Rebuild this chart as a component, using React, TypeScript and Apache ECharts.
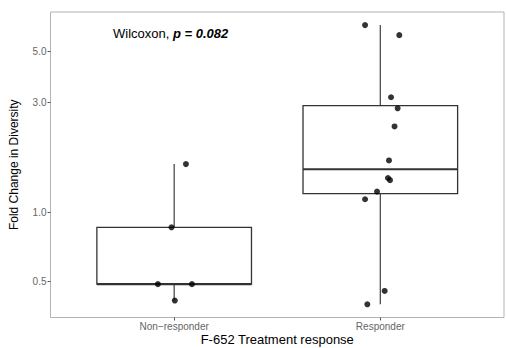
import React, { useEffect, useRef } from "react";
import * as echarts from "echarts";

const categories = ["Non−responder", "Responder"];
// values (fold change), with horizontal jitter (in category units)
const nonResponderValues = [1.62, 0.861, 0.488, 0.488, 0.414];
const nonResponderJitter = [0.057, -0.013, -0.079, 0.086, 0.003];
const responderValues = [6.5, 5.88, 3.16, 2.83, 2.36, 1.68, 1.41, 1.38, 1.23, 1.14, 0.456, 0.399];
const responderJitter = [-0.074, 0.092, 0.052, 0.084, 0.069, 0.042, 0.037, 0.047, -0.016, -0.074, 0.021, -0.063];
const yTicks = [0.5, 1.0, 3.0, 5.0];
const annotationLabel = "Wilcoxon, ";
const annotationP = "p = 0.082";
const xTitle = "F-652 Treatment response";
const yTitle = "Fold Change in Diversity";

const FONT = "'Liberation Sans', Arial, Helvetica, sans-serif";

function quantile7(sorted: number[], p: number) {
  const h = (sorted.length - 1) * p;
  const lo = Math.floor(h);
  const hi = Math.ceil(h);
  return sorted[lo] + (h - lo) * (sorted[hi] - sorted[lo]);
}

// boxplot stats computed in log10 space (as ggplot does with a log scale)
function boxStats(values: number[]) {
  const logs = values.map((v) => Math.log10(v)).sort((a, b) => a - b);
  const q1 = quantile7(logs, 0.25);
  const med = quantile7(logs, 0.5);
  const q3 = quantile7(logs, 0.75);
  const iqr = q3 - q1;
  const inside = logs.filter((v) => v >= q1 - 1.5 * iqr && v <= q3 + 1.5 * iqr);
  const wMin = Math.min(...inside);
  const wMax = Math.max(...inside);
  return [wMin, q1, med, q3, wMax].map((v) => Math.pow(10, v));
}

export default function App() {
  const ref = useRef<HTMLDivElement>(null);
  useEffect(() => {
    if (!ref.current) return;
    const chart = echarts.init(ref.current, undefined, { renderer: "svg" });
    const groups = [nonResponderValues, responderValues];
    const jitters = [nonResponderJitter, responderJitter];
    const boxData = groups.map((g, i) => [i + 1, ...boxStats(g)]);
    const pointData: number[][] = [];
    groups.forEach((g, i) => {
      g.forEach((v, j) => pointData.push([i + 1 + jitters[i][j], v]));
    });
    const boxHalf = 0.375;
    const stroke = "#333333";

    chart.setOption({
      animation: false,
      backgroundColor: "#ffffff",
      grid: {
        left: 50.5,
        right: 2,
        top: 12,
        bottom: 30.5,
        show: true,
        borderColor: "#b3b3b3",
        borderWidth: 1,
        backgroundColor: "transparent",
        containLabel: false,
        outerBoundsMode: "none",
      },
      xAxis: {
        type: "value",
        min: 0.4,
        max: 2.6,
        name: xTitle,
        nameLocation: "middle",
        nameGap: 15,
        nameMoveOverlap: false,
        nameTextStyle: { fontFamily: FONT, fontSize: 13, lineHeight: 14, color: "#000" },
        axisLine: { show: false },
        splitLine: { show: false },
        axisTick: { show: true, length: 3, customValues: [1, 2], lineStyle: { color: "#555", width: 1 } },
        axisLabel: {
          customValues: [1, 2],
          formatter: (v: number) => categories[Math.round(v) - 1] ?? "",
          fontFamily: FONT,
          fontSize: 10,
          color: "#666",
          margin: 4,
        },
      },
      yAxis: {
        type: "log",
        logBase: 10,
        min: 0.3496,
        max: 7.41,
        name: yTitle,
        nameLocation: "middle",
        nameRotate: 90,
        nameGap: 31,
        nameMoveOverlap: false,
        nameTextStyle: { fontFamily: FONT, fontSize: 12, color: "#000" },
        axisLine: { show: false },
        splitLine: { show: false },
        axisTick: { show: true, length: 3, customValues: yTicks, lineStyle: { color: "#555", width: 1 } },
        axisLabel: {
          customValues: yTicks,
          formatter: (v: number) => Number(v).toFixed(1),
          fontFamily: FONT,
          fontSize: 10,
          color: "#666",
          margin: 4,
        },
      },
      graphic: [
        {
          type: "text",
          x: 113,
          y: 33,
          z: 100,
          style: {
            text: `{a|${annotationLabel}}{b|${annotationP}}`,
            verticalAlign: "middle",
            rich: {
              a: { fontFamily: FONT, fontSize: 13, fill: "#000" },
              b: { fontFamily: FONT, fontSize: 13, fontWeight: "bold", fontStyle: "italic", fill: "#000" },
            },
          },
        },
      ],
      series: [
        {
          type: "custom",
          data: boxData,
          encode: { x: 0, y: [1, 2, 3, 4, 5] },
          z: 2,
          renderItem: (_params: any, api: any) => {
            const x = api.value(0);
            const lo = api.coord([x - boxHalf, api.value(2)]);
            const hi = api.coord([x + boxHalf, api.value(4)]);
            const med = api.coord([x, api.value(3)]);
            const wMin = api.coord([x, api.value(1)]);
            const wMax = api.coord([x, api.value(5)]);
            return {
              type: "group",
              children: [
                {
                  type: "line",
                  shape: { x1: wMax[0], y1: wMax[1], x2: wMax[0], y2: hi[1] },
                  style: { stroke: "#4d4d4d", lineWidth: 1.3 },
                },
                {
                  type: "line",
                  shape: { x1: wMin[0], y1: lo[1], x2: wMin[0], y2: wMin[1] },
                  style: { stroke: "#4d4d4d", lineWidth: 1.3 },
                },
                {
                  type: "rect",
                  shape: { x: lo[0], y: hi[1], width: hi[0] - lo[0], height: lo[1] - hi[1] },
                  style: { fill: "#ffffff", stroke, lineWidth: 1.3 },
                },
                {
                  type: "line",
                  shape: { x1: lo[0], y1: med[1], x2: hi[0], y2: med[1] },
                  style: { stroke, lineWidth: 2.2 },
                },
              ],
            };
          },
        },
        {
          type: "scatter",
          data: pointData,
          symbol: "circle",
          symbolSize: 6,
          z: 5,
          itemStyle: { color: "#000000" },
        },
      ],
    });
    return () => chart.dispose();
  }, []);
  return (
    <div
      ref={ref}
      style={{ position: "fixed", left: 0, top: 0, width: 506, height: 348, background: "#fff" }}
    />
  );
}
